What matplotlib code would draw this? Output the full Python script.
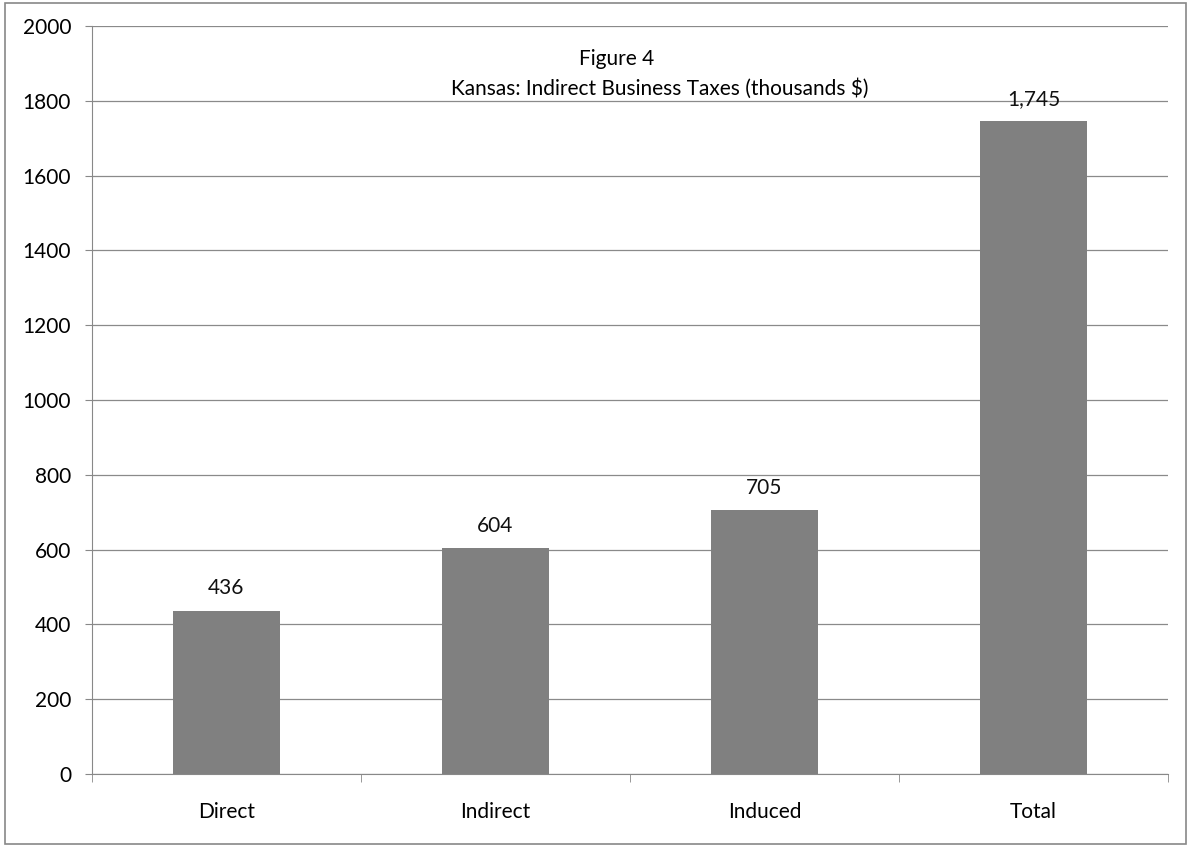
import numpy as np
import matplotlib.pyplot as plt
from matplotlib.patches import Rectangle

categories = ["Direct", "Indirect", "Induced", "Total"]
values = [436, 604, 705, 1745]
yticks = [0, 200, 400, 600, 800, 1000, 1200, 1400, 1600, 1800, 2000]

plt.rcParams['font.family'] = ['Lato', 'DejaVu Sans']
fs = 15

fig = plt.figure(figsize=(11.91, 8.47), dpi=100)
ax = fig.add_axes([0.0772, 0.0862, 0.9035, 0.8831])

x = np.arange(len(categories))
ax.bar(x, values, width=0.4, color='#808080', zorder=3)

for xi, v in zip(x, values):
    ax.text(xi, v + 60, f"{v:,}", ha='center', va='center', fontsize=fs, color='#111111')

ax.set_xlim(-0.5, len(categories) - 0.5)
ax.set_ylim(0, 2000)
ax.set_yticks(yticks)
ax.set_yticklabels([str(t) for t in yticks], fontsize=fs)
ax.yaxis.grid(True, color='#8a8a8a', linewidth=0.9, zorder=0)
ax.tick_params(axis='y', length=5, color='#888888', pad=10)

# category labels centred, tick marks at the category boundaries
ax.set_xticks(x)
ax.set_xticklabels(categories, fontsize=fs)
ax.tick_params(axis='x', length=0, pad=20)
ax.set_xticks(np.arange(-0.5, len(categories)), minor=True)
ax.tick_params(axis='x', which='minor', length=6, color='#888888')

for side in ['top', 'right']:
    ax.spines[side].set_visible(False)
ax.spines['left'].set_color('#888888')
ax.spines['bottom'].set_color('#888888')

ax.text(0.488, 0.956, "Figure 4", transform=ax.transAxes, ha='center', va='center', fontsize=fs)
ax.text(0.528, 0.917, "Kansas: Indirect Business Taxes (thousands $)", transform=ax.transAxes,
        ha='center', va='center', fontsize=fs)

fig.patches.append(Rectangle((0.004, 0.003), 0.992, 0.993, transform=fig.transFigure,
                             fill=False, edgecolor='#888888', linewidth=1.2))

fig.savefig("out.png", dpi=100)
